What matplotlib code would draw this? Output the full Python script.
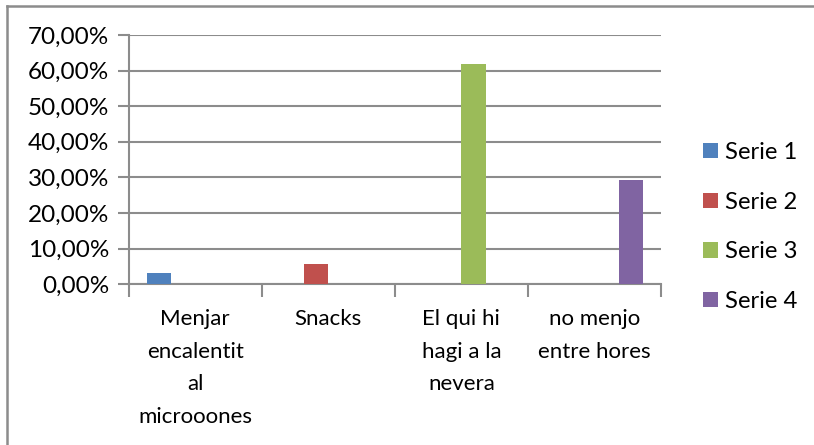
import matplotlib
matplotlib.use("Agg")
import matplotlib.pyplot as plt
from matplotlib.lines import Line2D
import numpy as np

categories = ["Menjar\nencalentit\nal\nmicrooones", "Snacks", "El qui hi\nhagi a la\nnevera", "no menjo\nentre hores"]
series_names = ["Serie 1", "Serie 2", "Serie 3", "Serie 4"]
serie1 = [3.2, 0, 0, 0]
serie2 = [0, 5.7, 0, 0]
serie3 = [0, 0, 61.9, 0]
serie4 = [0, 0, 0, 29.3]
colors = ["#4F81BD", "#C0504D", "#9BBB59", "#8064A2"]
yticks = [0, 10, 20, 30, 40, 50, 60, 70]
ytick_labels = ["0,00%", "10,00%", "20,00%", "30,00%", "40,00%", "50,00%", "60,00%", "70,00%"]

plt.rcParams['font.family'] = ['Lato', 'DejaVu Sans']
fig = plt.figure(figsize=(8.14, 4.45), dpi=100)
ax = fig.add_axes([128.7/814, 1-284.3/445, (661-128.7)/814, (284.3-35)/445])

grid_c = "#8C8C8C"
x = np.arange(len(categories))
w = 0.183
data = [serie1, serie2, serie3, serie4]
for i, (vals, name, c) in enumerate(zip(data, series_names, colors)):
    ax.bar(x + (i - 1.5) * w, vals, width=w, color=c, label=name, zorder=3)

ax.set_xlim(-0.5, len(categories) - 0.5)
ax.set_ylim(0, 70)
ax.set_yticks(yticks)
ax.set_yticklabels(ytick_labels, fontsize=17.5, color="#000000")
ax.yaxis.grid(True, color=grid_c, linewidth=1.5, zorder=0)
ax.tick_params(axis='y', length=8, width=1.5, color=grid_c, pad=6)

# category boundary ticks
ax.set_xticks(np.arange(-0.5, len(categories), 1.0))
ax.set_xticklabels([])
ax.tick_params(axis='x', length=9, width=1.5, color=grid_c)
for xi, lab in zip(x, categories):
    ax.text(xi, -0.10, lab, transform=ax.get_xaxis_transform(), ha='center', va='top',
            fontsize=16, linespacing=1.78)

for s in ['top', 'right']:
    ax.spines[s].set_visible(False)
for s in ['left', 'bottom']:
    ax.spines[s].set_color(grid_c)
    ax.spines[s].set_linewidth(1.5)

# outer chart border (top and left visible)
fig.add_artist(Line2D([7/814, 7/814], [0, 1-5.7/445], transform=fig.transFigure, color="#8C8C8C", linewidth=1.8))
fig.add_artist(Line2D([7/814, 1], [1-5.7/445, 1-5.7/445], transform=fig.transFigure, color="#8C8C8C", linewidth=1.8))

leg = fig.legend(loc='center left', bbox_to_anchor=(703/814, 1-227/445), frameon=False,
                 fontsize=17.2, handlelength=0.62, handleheight=0.62, handletextpad=0.3,
                 labelspacing=1.2, borderpad=0, borderaxespad=0)

fig.savefig("out.png", dpi=100)
